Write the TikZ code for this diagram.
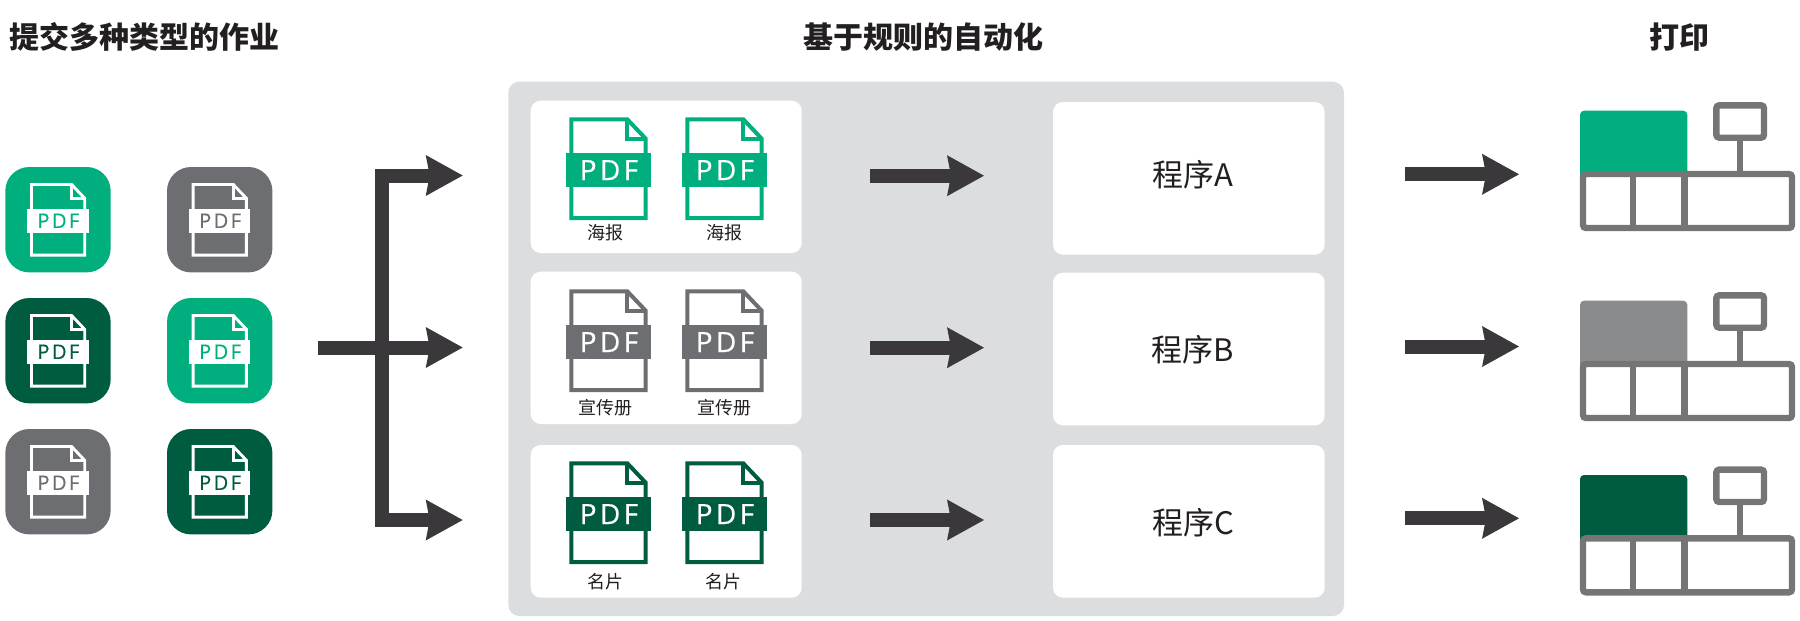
\documentclass[tikz,border=0pt]{standalone}
\usepackage{fontspec}
\setmainfont{Noto Sans CJK SC}
\newfontfamily\pdffont[LetterSpace=12,FakeBold=0.3]{Open Sans}
\usetikzlibrary{arrows.meta}
\definecolor{cgreen}{HTML}{00AF7D}
\definecolor{cdark}{HTML}{005C40}
\definecolor{cgray}{HTML}{6D6E71}
\definecolor{cpanel}{HTML}{DCDDDE}
\definecolor{carrow}{HTML}{3A383B}
\definecolor{cprint}{HTML}{757575}
\definecolor{cptop}{HTML}{8A8B8D}
\definecolor{ctext}{HTML}{231F20}
\tikzset{
  box/.style={draw=none,inner sep=0pt,outer sep=0pt,anchor=north west},
  whitebox/.style={box,fill=white,rounded corners=10pt},
  appicon/.style={box,rounded corners=24pt,minimum width=105.4pt,minimum height=105.4pt},
  title/.style={font=\fontsize{30}{31}\selectfont\bfseries,text=ctext,inner sep=0pt},
  proglabel/.style={font=\fontsize{31}{32}\selectfont,text=ctext,inner sep=0pt},
  doclabel/.style={font=\fontsize{18}{19}\selectfont,text=ctext,inner sep=0pt},
  bar/.style={draw=carrow,line width=14pt,line join=miter,
    -{Stealth[length=37pt,width=41pt,inset=4pt,line width=0pt]}},
  bigtip/.style={draw=carrow,line width=14pt,line join=miter,
    {Stealth[length=37pt,width=41pt,inset=4pt,line width=0pt]}-{Stealth[length=37pt,width=41pt,inset=4pt,line width=0pt]}},
  pframe/.style={draw=cprint,line width=6.4pt,fill=white,rounded corners=3pt,inner sep=0pt,outer sep=0pt,anchor=north west},
  pline/.style={draw=cprint,line width=6.4pt},
}
% #1 left, #2 top, #3 scale, #4 line colour, #5 band colour, #6 text colour, #7 name, #8 paper fill
\newcommand{\pdfdoc}[8]{%
  \pgfmathsetmacro{\pdfsize}{28*#3}%
  \begin{scope}[shift={(#1,#2)},x=#3pt,y=-#3pt]
    \draw[#4,line width=4*#3pt,line join=miter,fill=#8]
      (2,2)--(58,2)--(76.4,21.4)--(76.4,100.7)--(2,100.7)--cycle;
    \draw[#4,line width=4*#3pt,line join=miter] (58,2)--(58,21.4)--(76.4,21.4);
    \path[fill=#5] (-3.6,36) rectangle (82,69.7);
    \node[inner sep=0pt,text=#6,font=\fontsize{\pdfsize}{30}\selectfont\pdffont] (#7) at (39.7,52.8) {PDF};
  \end{scope}}
% #1 y shift, #2 top colour, #3 name
\newcommand{\printer}[3]{%
  \begin{scope}[yshift=#1pt]
    \path[fill=#2] (1580,176) [rounded corners=4pt] -- (1580,110.7) -- (1687.3,110.7) [sharp corners] -- (1687.3,176) -- cycle;
    \node[pframe,minimum width=209pt,minimum height=54pt] (#3t) at (1583,174) {};
    \node[pframe,minimum width=47.7pt,minimum height=32.4pt] (#3s) at (1716.3,105.3) {};
    \draw[pline] (#3s.south) -- (#3s.south |- #3t.north);
    \draw[pline] (1633,174) -- (1633,228);
    \draw[pline] (1684.5,174) -- (1684.5,228);
  \end{scope}}
\begin{document}
\begin{tikzpicture}[x=1pt,y=-1pt]
\useasboundingbox (0,0) rectangle (1800,621);
% titles
\node[title] (t1) at (144.8,37.3) {提交多种类型的作业};
\node[title] (t2) at (923.7,37.3) {基于规则的自动化};
\node[title] (t3) at (1679.3,37.3) {打印};
% left icons
\node[appicon,fill=cgreen] (i11) at (5.3,167) {};
\node[appicon,fill=cgray]  (i12) at (167,167) {};
\node[appicon,fill=cdark]  (i21) at (5.3,298) {};
\node[appicon,fill=cgreen] (i22) at (167,298) {};
\node[appicon,fill=cgray]  (i31) at (5.3,429) {};
\node[appicon,fill=cdark]  (i32) at (167,429) {};
\pdfdoc{30}{183}{0.716}{white}{white}{cgreen}{a11}{none}
\pdfdoc{191.7}{183}{0.716}{white}{white}{cgray}{a12}{none}
\pdfdoc{30}{314}{0.716}{white}{white}{cdark}{a21}{none}
\pdfdoc{191.7}{314}{0.716}{white}{white}{cgreen}{a22}{none}
\pdfdoc{30}{445}{0.716}{white}{white}{cgray}{a31}{none}
\pdfdoc{191.7}{445}{0.716}{white}{white}{cdark}{a32}{none}
% main fork arrow
\coordinate (f0) at (318,347.5);
\coordinate (e1) at (462.7,175.5);
\coordinate (e2) at (462.7,347.5);
\coordinate (e3) at (462.7,520);
\coordinate (j1) at (382.4,175.5);
\coordinate (j3) at (382.4,520);
\draw[bigtip] (e1) -- (j1) -- (j3) -- (e3);
\draw[bar] (f0) -- (e2);
% grey panel
\node[box,fill=cpanel,rounded corners=11pt,minimum width=835.7pt,minimum height=534.3pt] (panel) at (508.3,81.7) {};
% white boxes
\node[whitebox,minimum width=271pt,minimum height=152.3pt] (w1) at (530.7,100.7) {};
\node[whitebox,minimum width=271pt,minimum height=152.3pt] (w2) at (530.7,271.7) {};
\node[whitebox,minimum width=271pt,minimum height=152.7pt] (w3) at (530.7,445) {};
\node[whitebox,minimum width=271.7pt,minimum height=152.7pt] (p1) at (1053,102) {};
\node[whitebox,minimum width=271.7pt,minimum height=152.7pt] (p2) at (1053,272.7) {};
\node[whitebox,minimum width=271.7pt,minimum height=152.7pt] (p3) at (1053,445) {};
\node[proglabel] (l1) at (1193,175) {程序A};
\node[proglabel] (l2) at (1192.5,350) {程序B};
\node[proglabel] (l3) at (1193,523) {程序C};
% documents in panel
\pdfdoc{569.3}{117.3}{1}{cgreen}{cgreen}{white}{b11}{white}
\pdfdoc{685.3}{117.3}{1}{cgreen}{cgreen}{white}{b12}{white}
\pdfdoc{569.3}{289.3}{1}{cgray}{cgray}{white}{b21}{white}
\pdfdoc{685.3}{289.3}{1}{cgray}{cgray}{white}{b22}{white}
\pdfdoc{569.3}{461.3}{1}{cdark}{cdark}{white}{b31}{white}
\pdfdoc{685.3}{461.3}{1}{cdark}{cdark}{white}{b32}{white}
\node[doclabel] (n11) at (605,233) {海报};
\node[doclabel] (n12) at (724,233) {海报};
\node[doclabel] (n21) at (605,407.7) {宣传册};
\node[doclabel] (n22) at (724,407.7) {宣传册};
\node[doclabel] (n31) at (605.5,581.7) {名片};
\node[doclabel] (n32) at (723.5,581.7) {名片};
% mid arrows
\coordinate (m1a) at (870,175.7); \coordinate (m1b) at (984,175.7);
\coordinate (m2a) at (870,347.7); \coordinate (m2b) at (984,347.7);
\coordinate (m3a) at (870,520);   \coordinate (m3b) at (984,520);
\draw[bar] (m1a) -- (m1b);
\draw[bar] (m2a) -- (m2b);
\draw[bar] (m3a) -- (m3b);
% right arrows
\coordinate (r1a) at (1405,174.3); \coordinate (r1b) at (1519,174.3);
\coordinate (r2a) at (1405,346.5); \coordinate (r2b) at (1519,346.5);
\coordinate (r3a) at (1405,518.3); \coordinate (r3b) at (1519,518.3);
\draw[bar] (r1a) -- (r1b);
\draw[bar] (r2a) -- (r2b);
\draw[bar] (r3a) -- (r3b);
% printers
\printer{0}{cgreen}{pa}
\printer{-190}{cptop}{pb}
\printer{-364.3}{cdark}{pc}
\end{tikzpicture}
\end{document}
